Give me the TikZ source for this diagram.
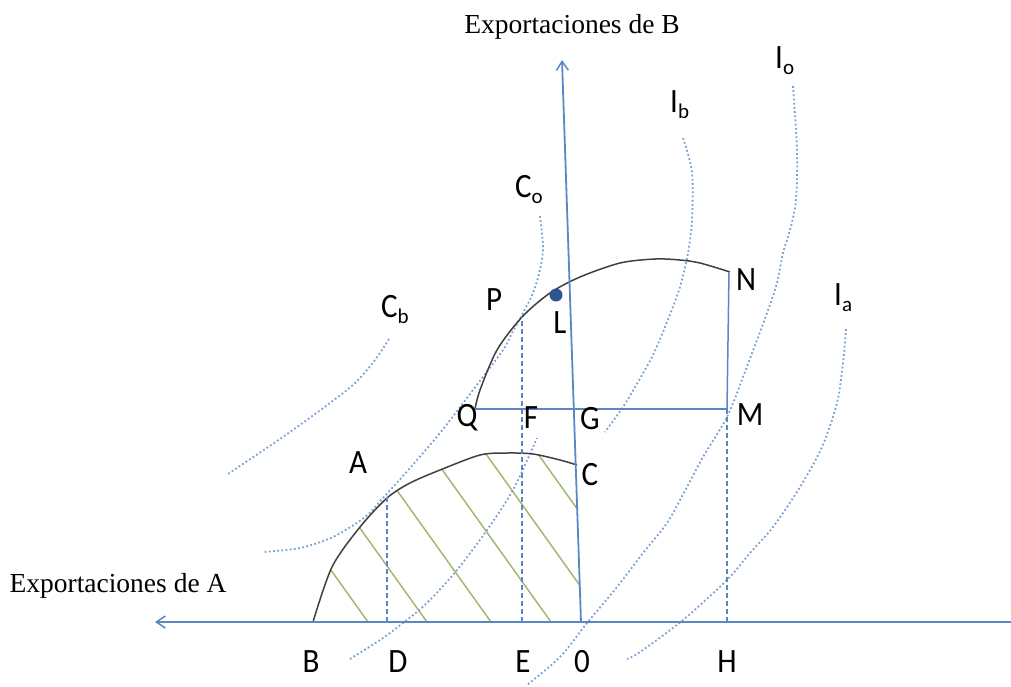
\documentclass[tikz,border=0pt]{standalone}
\usepackage{fontspec}
\setmainfont{Liberation Serif}
\newfontfamily\lblfont{Carlito}
\usetikzlibrary{arrows.meta}
\definecolor{axblue}{HTML}{5B87C5}
\definecolor{dotblue}{HTML}{7AA0D4}
\definecolor{hatchgreen}{HTML}{A3B86C}
\definecolor{curvegray}{HTML}{404040}
\definecolor{dotnavy}{HTML}{2E5591}
\newcommand{\lsub}[1]{\raisebox{-6pt}{\fontsize{21}{21}\selectfont #1}}
\newcommand{\tallx}[1]{\scalebox{1}[1.1]{#1}}
\begin{document}
\begin{tikzpicture}[x=1pt,y=-1pt,
  axisline/.style={axblue,line width=1.8pt},
  guide/.style={axblue,line width=1.4pt,dash pattern=on 5pt off 3pt},
  indiff/.style={dotblue,line width=1.8pt,dash pattern=on 1.8pt off 2.4pt},
  frontier/.style={curvegray,line width=1.5pt},
  hatchline/.style={hatchgreen,line width=1.5pt},
  lbl/.style={font=\lblfont\fontsize{31}{31}\selectfont,inner sep=0pt,anchor=base},
  sublbl/.style={font=\lblfont\fontsize{31}{31}\selectfont,inner sep=0pt,anchor=base west},
  titlelbl/.style={font=\fontsize{27.5}{28}\selectfont,inner sep=0pt,anchor=base},
  tip/.style={-{Straight Barb[length=9pt,width=12pt,line width=1.5pt]}}]
\useasboundingbox (0,0) rectangle (1011,686);

% key points
\coordinate (O) at (581,622);
\coordinate (Ytop) at (562,60);
\coordinate (Xleft) at (155,622);
\coordinate (Xright) at (1011,622);
\coordinate (Q) at (475,409);
\coordinate (M) at (727,409);
\coordinate (N) at (729,272);
\coordinate (H) at (727,622);
\coordinate (Daxis) at (387,622);
\coordinate (Acurve) at (387,497);
\coordinate (Eaxis) at (522,622);
\coordinate (Pcurve) at (522,317);

% hatching
\begin{scope}
  \clip plot[smooth] coordinates {(313,622) (332,567) (360,527) (387,498) (410,483) (440,470) (480,455) (507,453) (533,454) (560,460) (577,465)} -- (581,622) -- cycle;
  \foreach \c in {368,427,491,551,606,658}
    \draw[hatchline] (\c,622) -- ++(-200,-280);
\end{scope}

% indifference curves (dotted)
\draw[indiff] plot[smooth] coordinates {(793,86) (797,150) (796,200) (790,230) (783,253) (777,283) (767,313) (757,340) (743,377) (727,417) (703,457) (687,487) (667,523) (643,553) (617,587) (587,623) (560,657) (527,685)};
\draw[indiff] plot[smooth] coordinates {(683,138) (692,172) (692,220) (688,253) (680,287) (667,322) (653,355) (638,382) (623,407) (605,432)};
\draw[indiff] plot[smooth] coordinates {(846,329) (843,363) (837,403) (822,447) (800,487) (773,527) (750,553) (727,580) (683,620) (640,652) (627,659)};
\draw[indiff] plot[smooth] coordinates {(540,216) (543,247) (540,270) (533,293) (523,313) (512,333) (503,350) (473,390) (440,433) (410,468) (383,498) (365,517) (333,537) (300,548) (263,552)};
\draw[indiff] plot[smooth] coordinates {(389,339) (380,353) (367,370) (347,390) (290,432) (228,474)};
\draw[indiff] plot[smooth] coordinates {(350,659) (380,640) (403,623) (427,603) (457,570) (487,530) (513,490) (537,438)};

% production frontiers
\draw[frontier] plot[smooth] coordinates {(313,622) (332,567) (360,527) (387,498) (410,483) (440,470) (480,455) (507,453) (533,454) (560,460) (577,465)};
\draw[frontier] plot[smooth] coordinates {(475,409) (480,390) (497,350) (522,317) (550,293) (580,277) (620,263) (655,259) (680,260) (700,263) (730,272)};

% guides
\draw[guide] (Daxis) -- (Acurve);
\draw[guide] (Eaxis) -- (Pcurve);
\draw[guide] (H) -- (M);
\draw[axisline,line width=1.5pt] (N) -- (M);
\draw[axisline] (Q) -- (M);

% axes
\draw[axisline,tip] (Xright) -- (Xleft);
\draw[axisline,tip] (O) -- (Ytop);

% point L
\node[circle,fill=dotnavy,minimum size=13pt,inner sep=0pt] (Ldot) at (556,295) {};

% titles
\node[titlelbl] (tB) at (572,33) {Exportaciones de B};
\node[titlelbl] (tA) at (118,592) {Exportaciones de A};

% point labels
\node[lbl] (lB) at (311,672) {\tallx{B}};
\node[lbl] (lD) at (398,672) {\tallx{D}};
\node[lbl] (lE) at (523,672) {\tallx{E}};
\node[lbl] (lO) at (582,672) {\tallx{0}};
\node[lbl] (lH) at (727,672) {\tallx{H}};
\node[lbl] (lM) at (750,425) {\tallx{M}};
\node[lbl] (lG) at (590,429) {\tallx{G}};
\node[lbl] (lF) at (531,428) {\tallx{F}};
\node[lbl] (lQ) at (467,426) {\tallx{Q}};
\node[lbl] (lC) at (590,485) {\tallx{C}};
\node[lbl] (lA) at (358,473) {\tallx{A}};
\node[lbl] (lP) at (494,310) {\tallx{P}};
\node[lbl] (lL) at (560,333) {\tallx{L}};
\node[lbl] (lN) at (746,290) {\tallx{N}};

% curve labels
\node[sublbl] (lCb) at (381,317) {\tallx{C}\lsub{b}};
\node[sublbl] (lCo) at (515,197) {\tallx{C}\lsub{o}};
\node[sublbl] (lIb) at (670,112) {\tallx{I}\lsub{b}};
\node[sublbl] (lIo) at (775,68) {\tallx{I}\lsub{o}};
\node[sublbl] (lIa) at (834,305) {\tallx{I}\lsub{a}};
\end{tikzpicture}
\end{document}
